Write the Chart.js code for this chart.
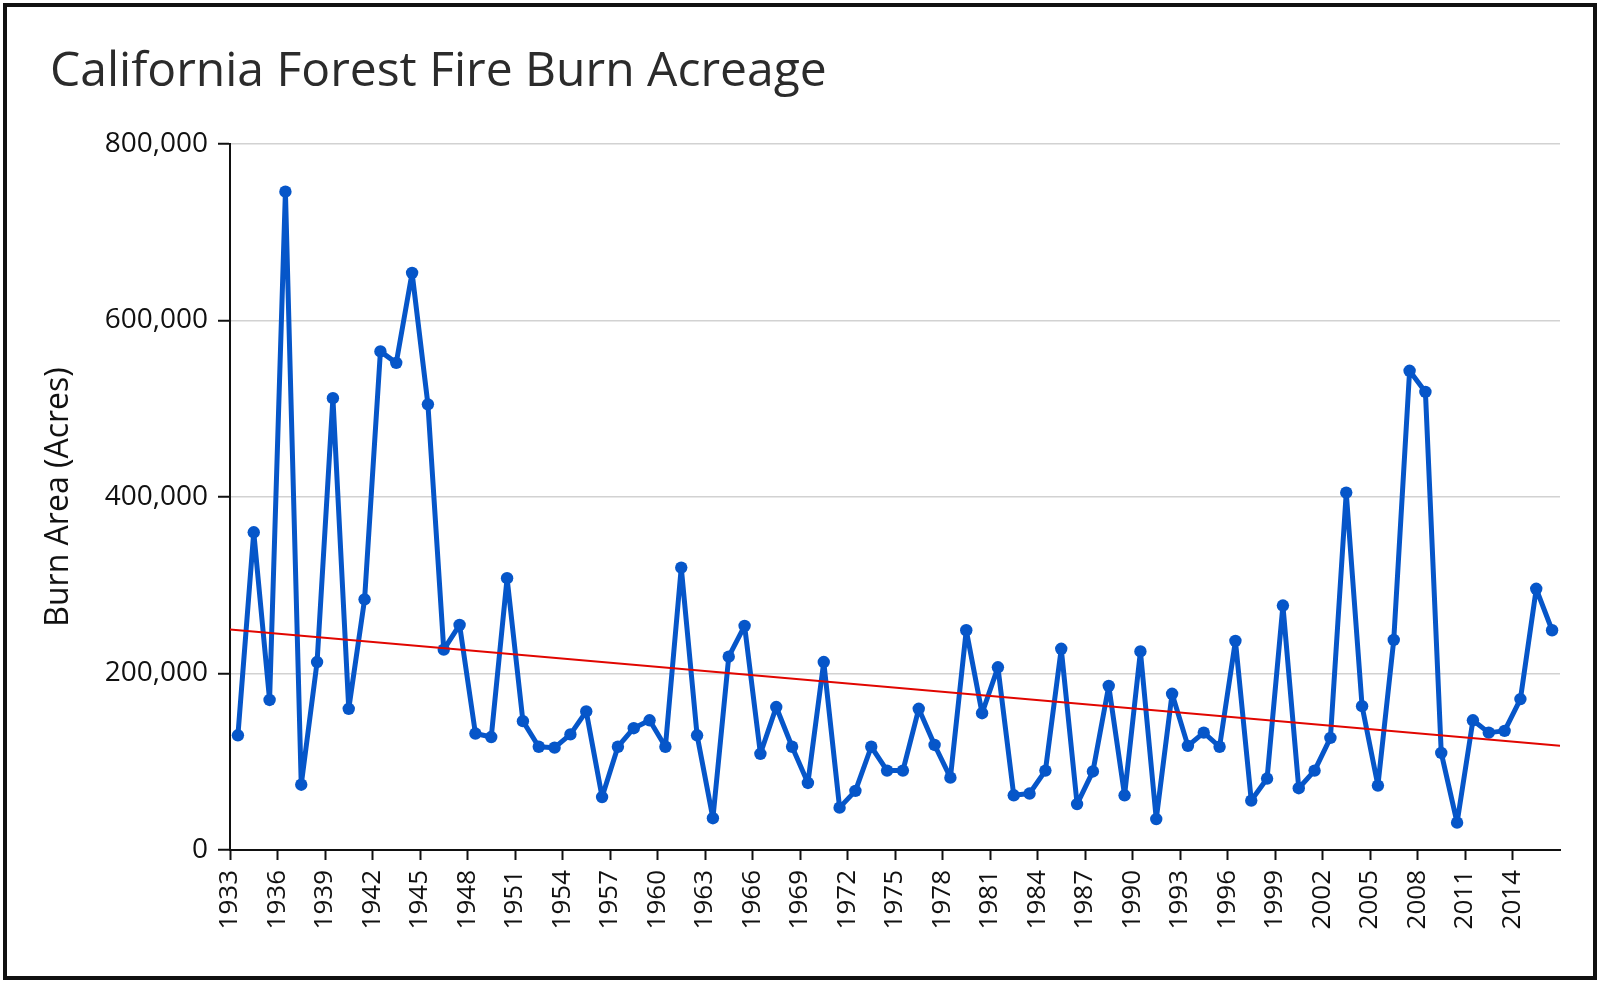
<!DOCTYPE html>
<html>
<head>
<meta charset="utf-8">
<title>California Forest Fire Burn Acreage</title>
<script src="https://cdn.jsdelivr.net/npm/chart.js@4.4.1/dist/chart.umd.min.js"></script>
<style>
  html, body { margin: 0; padding: 0; background: #fff; overflow: hidden; }
  #frame {
    position: absolute; left: 3px; top: 3px;
    width: 1594px; height: 977px;
    box-sizing: border-box; border: 4px solid #111;
  }
  #chart { position: absolute; left: 0; top: 0; }
</style>
</head>
<body>
<div id="frame"></div>
<canvas id="chart" width="1601" height="983"></canvas>
<script>
// Yearly burn area
const years = [
  1933, 1934, 1935, 1936, 1937, 1938, 1939, 1940, 1941, 1942,
  1943, 1944, 1945, 1946, 1947, 1948, 1949, 1950, 1951, 1952,
  1953, 1954, 1955, 1956, 1957, 1958, 1959, 1960, 1961, 1962,
  1963, 1964, 1965, 1966, 1967, 1968, 1969, 1970, 1971, 1972,
  1973, 1974, 1975, 1976, 1977, 1978, 1979, 1980, 1981, 1982,
  1983, 1984, 1985, 1986, 1987, 1988, 1989, 1990, 1991, 1992,
  1993, 1994, 1995, 1996, 1997, 1998, 1999, 2000, 2001, 2002,
  2003, 2004, 2005, 2006, 2007, 2008, 2009, 2010, 2011, 2012,
  2013, 2014, 2015, 2016
];
const acres = [
  130000, 360000, 170000, 746000, 74000, 213000, 512000, 160000, 284000, 565000,
  552000, 654000, 505000, 227000, 255000, 132000, 128000, 308000, 146000, 117000,
  116000, 131000, 157000, 60000, 117000, 138000, 147000, 117000, 320000, 130000,
  36000, 219000, 254000, 109000, 162000, 117000, 76000, 213000, 48000, 67000,
  117000, 90000, 90000, 160000, 119000, 82000, 249000, 155000, 207000, 62000,
  64000, 90000, 228000, 52000, 89000, 186000, 62000, 225000, 35000, 177000,
  118000, 133000, 117000, 237000, 56000, 81000, 277000, 70000, 90000, 127000,
  405000, 163000, 73000, 238000, 543000, 519000, 110000, 31000, 147000, 133000,
  135000, 171000, 296000, 249000
];

// Red trend line, ends
const trendYears = [1932.5, 2016.5];
const trendAcres = [250000, 118000];

// Labelled years on the x axis (every third year)
const tickYears = [
  1933, 1936, 1939, 1942, 1945, 1948, 1951, 1954, 1957, 1960,
  1963, 1966, 1969, 1972, 1975, 1978, 1981, 1984, 1987, 1990,
  1993, 1996, 1999, 2002, 2005, 2008, 2011, 2014
];

const FONT = "'Open Sans', 'Noto Sans', sans-serif";
const BLUE = '#0656c9';

function draw() {
  new Chart(document.getElementById('chart'), {
    type: 'line',
    data: {
      datasets: [
        {
          label: 'Trend',
          data: trendYears.map((x, i) => ({ x, y: trendAcres[i] })),
          borderColor: '#e10600',
          borderWidth: 2,
          pointRadius: 0,
          fill: false
        },
        {
          label: 'Burn Area',
          data: years.map((x, i) => ({ x, y: acres[i] })),
          borderColor: BLUE,
          backgroundColor: BLUE,
          borderWidth: 5,
          borderJoinStyle: 'round',
          borderCapStyle: 'round',
          pointRadius: 6.2,
          pointBorderWidth: 0,
          tension: 0,
          fill: false
        }
      ]
    },
    options: {
      responsive: false,
      animation: false,
      events: [],
      layout: { padding: { left: 50, top: 0, right: 41, bottom: 0 } },
      plugins: {
        legend: { display: false },
        tooltip: { enabled: false },
        title: {
          display: true,
          text: 'California Forest Fire Burn Acreage',
          align: 'start',
          color: '#2b2b2b',
          font: { family: FONT, size: 48, weight: 'normal', lineHeight: 1.2 },
          padding: { top: 44, bottom: 42.4 }
        }
      },
      scales: {
        x: {
          type: 'linear',
          min: 1932.5,
          max: 2016.5,
          // labels sit on the left edge of each labelled year
          afterBuildTicks: s => { s.ticks = tickYears.map(y => ({ value: y - 0.5 })); },
          afterFit: s => { s.height = 133; },
          ticks: {
            autoSkip: false,
            minRotation: 90,
            maxRotation: 90,
            padding: 10,
            color: '#111',
            font: { family: FONT, size: 26 },
            callback: v => String(v + 0.5)
          },
          grid: { drawOnChartArea: false, tickLength: 10, tickColor: '#111', tickWidth: 2 },
          border: { color: '#111', width: 2 }
        },
        y: {
          min: 0,
          max: 800000,
          afterFit: s => { s.width = 180; },
          ticks: {
            stepSize: 200000,
            padding: 10,
            color: '#111',
            font: { family: FONT, size: 28 },
            callback: v => v.toLocaleString('en-US')
          },
          grid: { color: '#d2d2d2', lineWidth: 1.5, tickLength: 12, tickColor: '#111', tickWidth: 2 },
          border: { color: '#111', width: 2 },
          title: {
            display: true,
            text: 'Burn Area (Acres)',
            color: '#111',
            font: { family: FONT, size: 32, lineHeight: 1.2 },
            padding: { top: -10, bottom: 0 }
          }
        }
      }
    }
  });
}

document.fonts.load("26px 'Open Sans'").then(draw, draw);
</script>
</body>
</html>
